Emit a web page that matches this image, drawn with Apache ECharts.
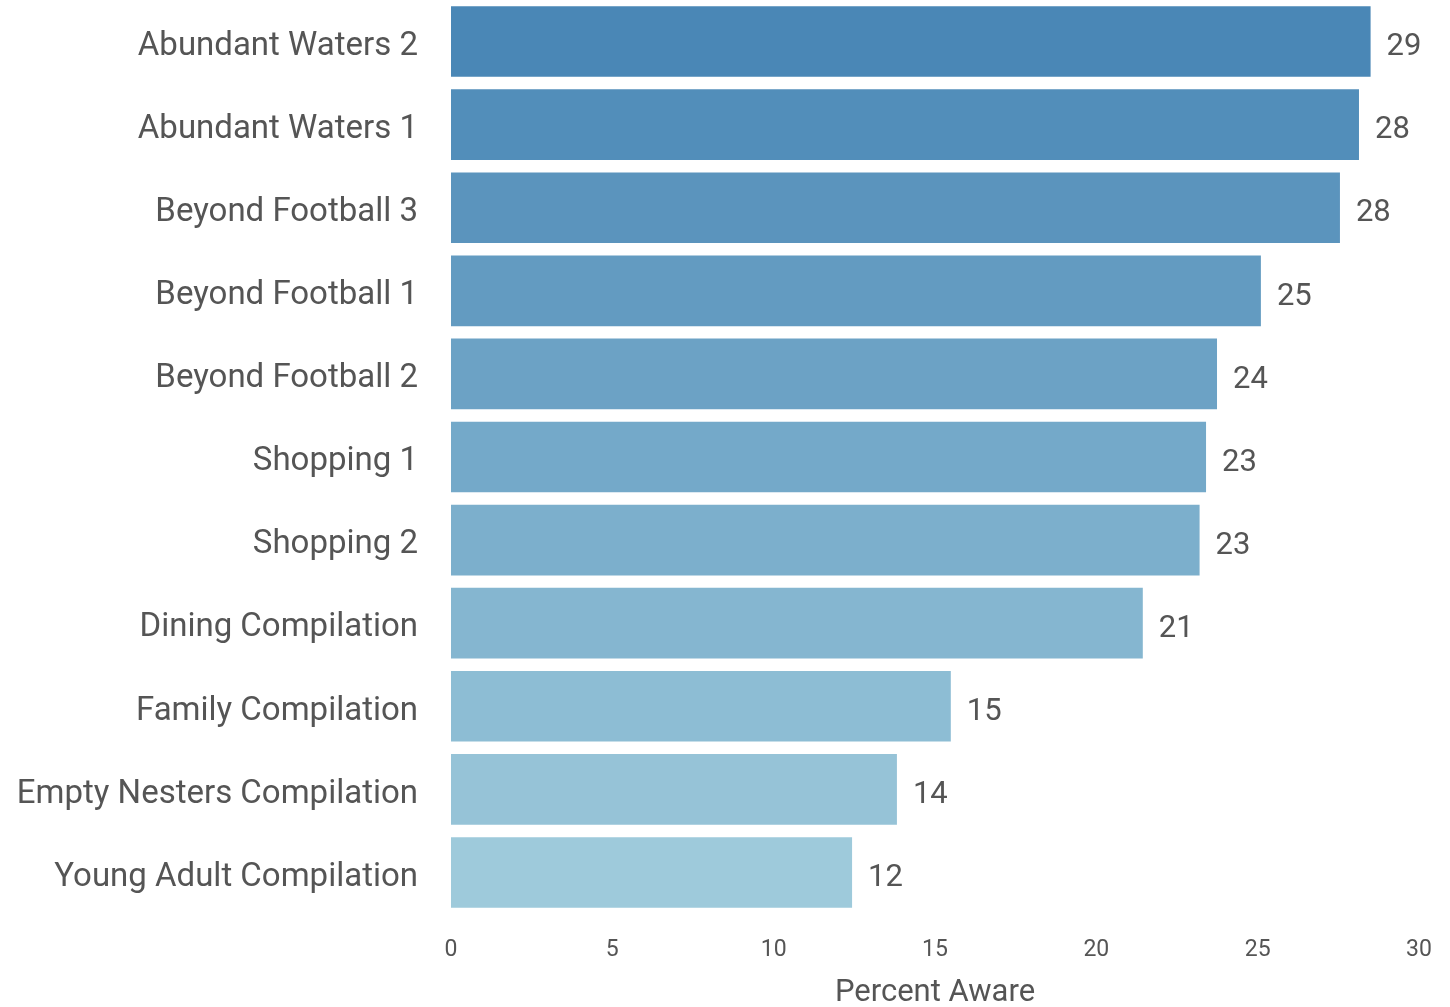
<!DOCTYPE html>
<html><head><meta charset="utf-8">
<script src="https://cdn.jsdelivr.net/npm/echarts@6/dist/echarts.min.js"></script>
<style>html,body{margin:0;padding:0;background:#fff}#c{width:1450px;height:1007px}</style>
</head><body><div id="c"></div>
<script>
const categories = ["Abundant Waters 2","Abundant Waters 1","Beyond Football 3","Beyond Football 1","Beyond Football 2","Shopping 1","Shopping 2","Dining Compilation","Family Compilation","Empty Nesters Compilation","Young Adult Compilation"];
const values = [28.5, 28.14, 27.55, 25.1, 23.74, 23.4, 23.2, 21.44, 15.49, 13.82, 12.43];
const xTicks = [0, 5, 10, 15, 20, 25, 30];
const startColor = [74,135,182], endColor = [158,202,219];
function colorAt(i,n){const t=i/(n-1);const c=startColor.map((s,k)=>Math.round(s+(endColor[k]-s)*t));return 'rgb('+c.join(',')+')';}
const chart = echarts.init(document.getElementById('c'));
const font = 'Roboto';
chart.setOption({
  animation:false,
  grid:{left:451,right:31,top:0,bottom:93,containLabel:false,outerBoundsMode:'none'},
  xAxis:{type:'value',min:0,max:30,interval:5,
    name:'Percent Aware',nameLocation:'middle',nameGap:64,
    nameTextStyle:{fontFamily:font,fontSize:31,color:'#555'},
    axisLine:{show:false},axisTick:{show:false},splitLine:{show:false},
    axisLabel:{fontFamily:font,fontSize:23,color:'#555',margin:25,
      formatter:v=>xTicks.includes(v)?String(v):''}},
  yAxis:{type:'category',data:categories,inverse:true,
    axisLine:{show:false},axisTick:{show:false},
    axisLabel:{fontFamily:font,fontSize:33,color:'#555',margin:33,verticalAlign:'top',lineHeight:10}},
  series:[{type:'bar',barCategoryGap:'15%',
    data:values.map((v,i)=>({value:v,itemStyle:{color:colorAt(i,values.length)}})),
    label:{show:true,position:'right',distance:16,fontFamily:font,fontSize:31,color:'#555',offset:[0,6],
      formatter:p=>String(Math.round(p.value))}}]
});
</script></body></html>
